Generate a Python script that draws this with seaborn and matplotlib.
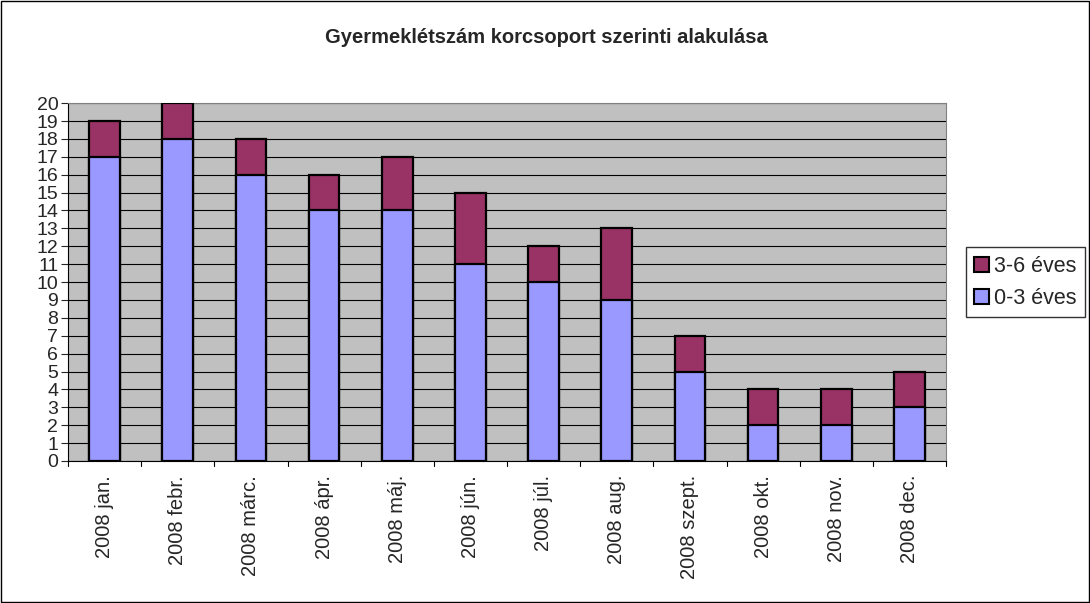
import pandas as pd
import seaborn as sns
import matplotlib.pyplot as plt
from matplotlib.patches import Rectangle, Patch

months = ["2008 jan.", "2008 febr.", "2008 márc.", "2008 ápr.", "2008 máj.", "2008 jún.",
          "2008 júl.", "2008 aug.", "2008 szept.", "2008 okt.", "2008 nov.", "2008 dec."]
age_0_3 = [17, 18, 16, 14, 14, 11, 10, 9, 5, 2, 2, 3]
age_3_6 = [2, 2, 2, 2, 3, 4, 2, 4, 2, 2, 2, 2]

df = pd.DataFrame({"honap": months, "0-3 éves": age_0_3, "3-6 éves": age_3_6})
df["total"] = df["0-3 éves"] + df["3-6 éves"]

sns.set_style("white")
plt.rcParams['font.family'] = ['Liberation Sans', 'DejaVu Sans']

fig = plt.figure(figsize=(10.9, 6.03), dpi=100)
ax = fig.add_axes([0.0624, 0.2355, 0.8055, 0.5935])
ax.set_facecolor("#C0C0C0")

# stacked: total bar behind, bottom segment on top
sns.barplot(x="honap", y="total", data=df, color="#993366", width=0.42,
            edgecolor="black", linewidth=1.6, saturation=1, ax=ax, zorder=3)
sns.barplot(x="honap", y="0-3 éves", data=df, color="#9999FF", width=0.42,
            edgecolor="black", linewidth=1.6, saturation=1, ax=ax, zorder=3)

ax.set_ylim(0, 20)
ax.set_xlim(-0.5, 11.5)
ax.set_yticks(range(0, 21))
ax.yaxis.grid(True, color="black", linewidth=0.8, zorder=0)
ax.set_axisbelow(True)
ax.tick_params(axis="y", labelsize=14, length=5, direction="out", left=True, pad=2)
ax.tick_params(axis="x", labelsize=14.5, length=0, pad=10)
plt.setp(ax.get_xticklabels(), rotation=90)
# category boundary ticks
for i in range(13):
    ax.plot([i - 0.5, i - 0.5], [0, -0.28], color="black", linewidth=0.8, clip_on=False)
ax.set_xlabel("")
ax.set_ylabel("")
for side in ["top", "right"]:
    ax.spines[side].set_color("#808080")
ax.spines["left"].set_color("black")
ax.spines["bottom"].set_color("black")

fig.text(0.5014, 0.9386, "Gyermeklétszám korcsoport szerinti alakulása", fontsize=14.5,
         fontweight="bold", ha="center", va="center")

handles = [Patch(facecolor="#993366", edgecolor="black", linewidth=1.5, label="3-6 éves"),
           Patch(facecolor="#9999FF", edgecolor="black", linewidth=1.5, label="0-3 éves")]
fig.legend(handles=handles, loc="center left", bbox_to_anchor=(0.886, 0.532),
           fontsize=15.5, frameon=True, fancybox=False, edgecolor="black",
           handlelength=0.7, handleheight=0.7, handletextpad=0.2, borderpad=0.4,
           labelspacing=0.5, borderaxespad=0)

fig.patches.append(Rectangle((0.001, 0.002), 0.998, 0.996, transform=fig.transFigure,
                             fill=False, edgecolor="black", linewidth=1))

plt.savefig("out.png", dpi=100)
